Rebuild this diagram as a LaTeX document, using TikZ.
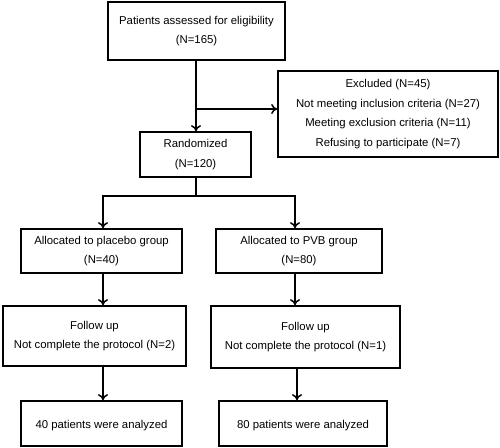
\documentclass[tikz,border=0pt]{standalone}
\usepackage{fontspec}
\setmainfont{Liberation Sans}
\usepackage{tikz}
\usetikzlibrary{arrows.meta,positioning}

\tikzset{
  flowbox/.style={draw, line width=1.7bp, inner sep=0pt, align=center,
    font=\fontsize{11.4}{19.5}\selectfont,
    execute at begin node={\rule{0pt}{13bp}}},
  flowarrow/.style={line width=1.7bp, -{To[length=6bp,width=10bp,line width=1.5bp]}},
  flowline/.style={line width=1.7bp}
}

\begin{document}
\begin{tikzpicture}[x=1bp,y=-1bp]
\useasboundingbox (0,0) rectangle (500,448);
% boxes
\node[flowbox, minimum width=177bp, minimum height=58bp] (elig) at (196.5,31)
  {Patients assessed for eligibility\\(N=165)};
\node[flowbox, minimum width=220bp, minimum height=86bp] (excl) at (388,114)
  {Excluded (N=45)\\Not meeting inclusion criteria (N=27)\\Meeting exclusion criteria (N=11)\\Refusing to participate (N=7)};
\node[flowbox, minimum width=111bp, minimum height=45bp] (rand) at (195.5,154.5)
  {Randomized\\(N=120)};
\node[flowbox, minimum width=161bp, minimum height=44bp] (plac) at (101.5,251)
  {Allocated to placebo group\\(N=40)};
\node[flowbox, minimum width=166bp, minimum height=44bp] (pvb) at (299,251)
  {Allocated to PVB group\\(N=80)};
\node[flowbox, minimum width=183bp, minimum height=60bp] (fuplac) at (94.5,336)
  {Follow up\\Not complete the protocol (N=2)};
\node[flowbox, minimum width=189bp, minimum height=62bp] (fupvb) at (305.5,337)
  {Follow up\\Not complete the protocol (N=1)};
\node[flowbox, minimum width=161bp, minimum height=45bp] (anplac) at (101.5,423.5)
  {40 patients were analyzed};
\node[flowbox, minimum width=168bp, minimum height=45bp] (anpvb) at (303,423.5)
  {80 patients were analyzed};
% connectors
\coordinate (split) at (196,109);
\coordinate (fork) at (196,196);
\draw[flowarrow] (elig.south -| split) -- (rand.north -| split);
\draw[flowarrow] (split) -- (excl.west |- split);
\draw[flowline] (rand.south -| fork) -- (fork);
\draw[flowarrow] (fork) -| ([xshift=1.5bp]plac.north);
\draw[flowarrow] (fork) -| ([xshift=-4bp]pvb.north);
\draw[flowarrow] ([xshift=1.5bp]plac.south) -- ([xshift=1.5bp]plac.south |- fuplac.north);
\draw[flowarrow] ([xshift=1.5bp]plac.south |- fuplac.south) -- ([xshift=1.5bp]anplac.north);
\draw[flowarrow] ([xshift=-4bp]pvb.south) -- ([xshift=-4bp]pvb.south |- fupvb.north);
\draw[flowarrow] ([xshift=-6bp]anpvb.north |- fupvb.south) -- ([xshift=-6bp]anpvb.north);
\end{tikzpicture}
\end{document}
